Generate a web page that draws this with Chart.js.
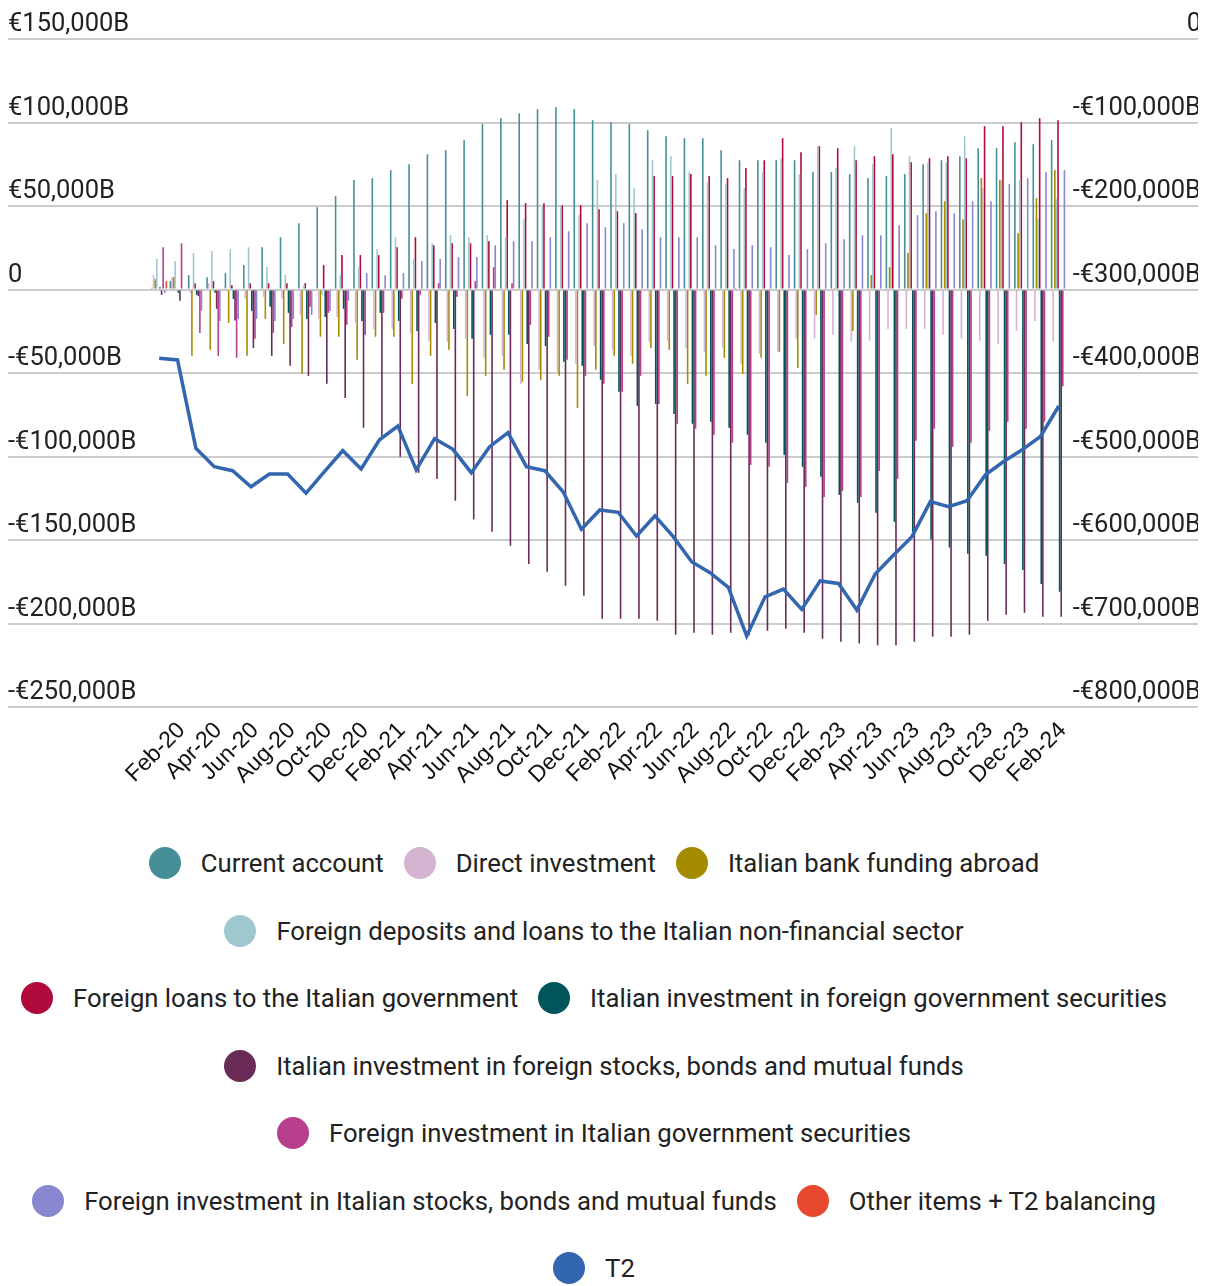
<!DOCTYPE html>
<html><head><meta charset="utf-8">
<script src="https://cdn.jsdelivr.net/npm/chart.js@4"></script>
<style>
body{margin:0;background:#fff;font-family:Roboto,sans-serif;}
#wrap{position:relative;width:1198px;height:800px;}
#legend{width:1188px;margin-top:47px;}
.row{display:flex;justify-content:center;column-gap:20px;height:32px;margin-bottom:35.5px;}
.item{display:flex;align-items:center;height:32px;font-size:25.7px;color:#222;white-space:nowrap;}
.dot{width:32px;height:32px;border-radius:50%;margin-right:20px;flex:none;}
</style></head>
<body>
<div id="wrap"><canvas id="c"></canvas></div>
<div id="legend"></div>
<script>
const months = ["Jan-20","Feb-20","Mar-20","Apr-20","May-20","Jun-20","Jul-20","Aug-20","Sep-20","Oct-20","Nov-20","Dec-20",
"Jan-21","Feb-21","Mar-21","Apr-21","May-21","Jun-21","Jul-21","Aug-21","Sep-21","Oct-21","Nov-21","Dec-21",
"Jan-22","Feb-22","Mar-22","Apr-22","May-22","Jun-22","Jul-22","Aug-22","Sep-22","Oct-22","Nov-22","Dec-22",
"Jan-23","Feb-23","Mar-23","Apr-23","May-23","Jun-23","Jul-23","Aug-23","Sep-23","Oct-23","Nov-23","Dec-23",
"Jan-24","Feb-24"];

const seriesNames = ["Current account","Direct investment","Italian bank funding abroad",
"Foreign deposits and loans to the Italian non-financial sector","Foreign loans to the Italian government",
"Italian investment in foreign government securities","Italian investment in foreign stocks, bonds and mutual funds",
"Foreign investment in Italian government securities","Foreign investment in Italian stocks, bonds and mutual funds",
"Other items + T2 balancing"];
const lineName = "T2";

const currentAccount = [1000,5000,8600,7400,9800,14600,25300,31300,39700,49300,55900,65500,66700,71500,75000,81000,83400,89400,99000,102600,105600,108000,109200,108000,101400,100200,99000,95400,91800,90600,90600,83400,77400,77400,77400,77400,70300,70300,69100,66700,67900,69100,75000,77400,79800,84600,84600,88200,87000,89400];
const directInvestment = [8600,7400,-2000,3800,-1000,-5600,-4400,-5600,-15200,-17600,-16400,-20000,-23600,-23600,-26000,-30700,-31300,-29500,-40900,-39700,-56500,-48100,-49300,-44500,-33900,-36100,-39700,-31300,-30700,-35000,-37300,-35000,-44500,-38500,-37300,-29500,-29500,-27100,-31300,-30700,-23600,-23600,-23600,-27100,-29500,-30700,-32700,-24800,-18800,-31300];
const bankFunding = [6200,7400,-39700,-36100,-20000,-39700,-17600,-32700,-50500,-28300,-28300,-42100,-28300,-28300,-56500,-39700,-36100,-63700,-51700,-48100,-55300,-54100,-51700,-70900,-48100,-39700,-44500,-35000,-36100,-56500,-51700,-40900,-50500,-40900,-37300,-47000,-15200,1000,-24800,8600,13400,21800,45700,52900,42100,66700,65500,33700,54700,71500];
const foreignDeposits = [18200,17000,21800,23000,24200,25300,13400,8600,2600,-3000,8600,13400,24200,31300,18200,27700,32500,31300,32500,31300,42100,49300,49300,44500,65500,69100,60700,77400,79800,70300,64300,63100,60700,70300,78600,69100,85800,72700,85800,75000,96600,79800,76200,76200,91800,60700,65500,65500,42100,54100];
const loansGovernment = [0,0,3800,5000,2600,3800,3800,3800,3800,14600,20600,20600,20600,25300,31300,26500,27700,27700,28900,53500,51700,51700,50500,50500,48100,46900,45700,67900,67900,69100,67900,66700,72700,77400,90600,82200,85800,84600,77400,79800,81000,76200,78600,79800,78600,97800,97800,100200,102600,101400];
const invForeignGov = [1400,-2000,-3200,-2000,-5600,-12800,-10400,-14000,-17600,-16400,-11600,-18800,-14000,-18800,-24800,-20000,-23600,-29500,-27100,-27100,-32700,-33900,-43300,-45700,-54100,-61300,-69700,-68500,-74500,-80400,-79200,-82800,-87000,-91800,-99000,-106200,-112200,-123000,-127700,-133700,-139100,-145000,-149700,-154500,-158300,-159500,-164300,-167900,-176300,-181000];
const invForeignStocks = [-3200,-6800,-4000,-11600,-18600,-35000,-39700,-45700,-51700,-56500,-64900,-82800,-88200,-100200,-109800,-113400,-126500,-137700,-145100,-153500,-164300,-169000,-177400,-183400,-197200,-197200,-197200,-198400,-206800,-205600,-206800,-205600,-207000,-204400,-203200,-205600,-209200,-211000,-212000,-213000,-213000,-211000,-208000,-208000,-206800,-198400,-194800,-193600,-196000,-196000];
const foreignInvGov = [25300,27700,-26000,-39700,-40900,-29500,-26000,-22400,-10400,-14000,-21200,-27100,-14000,-5600,-3200,3800,-4400,5000,13400,3800,-21200,-28300,-42100,-51700,-56500,-61300,-51700,-68500,-80400,-83400,-87000,-91800,-105000,-106200,-115800,-118200,-124200,-120600,-124200,-108600,-113400,-90600,-83400,-94200,-91800,-84600,-79200,-83400,-79200,-57900];
const foreignInvStocks = [-2000,0,-12800,-18800,-17600,-17600,-18800,-17600,-15200,-12800,-6800,9800,8600,9800,17000,18200,19400,19400,26500,28900,28900,31300,34900,39700,37300,39700,36100,31300,31300,31300,26500,24200,26500,25300,20600,24200,27700,30100,32500,32500,38500,44500,46900,45700,52900,52900,63100,66700,70300,71500];
const otherItems = [5000,0,0,0,0,0,0,0,0,0,0,0,0,0,0,0,0,0,0,0,0,0,0,0,0,0,0,0,0,0,0,1000,0,0,0,0,0,0,0,0,0,0,0,0,0,0,0,0,0,0];
const t2 = [-382400,-384400,-490200,-512200,-517000,-536200,-521000,-521000,-544000,-518200,-493000,-515000,
-480000,-463500,-516000,-478700,-491400,-519400,-488300,-471500,-512200,-517000,-542200,-587200,
-564000,-566800,-595200,-571200,-596000,-626000,-639200,-656600,-715000,-668000,-658700,-683000,-649000,
-652000,-683800,-640700,-618000,-596000,-554000,-560000,-553000,-522000,-506000,-492000,-476000,-439500];

const barSeries = [currentAccount,directInvestment,bankFunding,foreignDeposits,loansGovernment,invForeignGov,invForeignStocks,foreignInvGov,foreignInvStocks,otherItems];
const colors = ['#468f99','#d4b4d0','#a48b00','#9fc8ce','#b0093c','#00555a','#6a2b57','#b83e8e','#8987cf','#e6492e'];
const lineColor = '#3366b0';
const legendRows = [[0,1,2],[3],[4,5],[6],[7],[8,9],[10]];

function fmt(v){
  if (v === 0) return '0';
  return (v < 0 ? '-' : '') + '\u20AC' + Math.abs(v).toLocaleString('en-US') + 'B';
}

const datasets = [{
  type:'line', label:lineName, data:t2, yAxisID:'y2', borderColor:lineColor, borderWidth:3.5,
  pointRadius:0, tension:0, fill:false, order:-1
}];
barSeries.forEach((d,k)=>datasets.push({
  type:'bar', label:seriesNames[k], data:d, backgroundColor:colors[k], yAxisID:'y',
  categoryPercentage:0.87, barPercentage:1.0, order:1
}));

new Chart(document.getElementById('c'), {
  type:'bar',
  data:{labels:months, datasets},
  options:{
    responsive:true, maintainAspectRatio:false, animation:false, devicePixelRatio:1,
    layout:{padding:{top:39,left:8,right:-3,bottom:0}},
    plugins:{legend:{display:false}, tooltip:{enabled:false}},
    scales:{
      x:{type:'category', offset:true, grid:{display:false, drawTicks:false}, border:{display:false},
        ticks:{autoSkip:false, minRotation:45, maxRotation:45, padding:10, labelOffset:4, color:'#111',
          font:{family:'Liberation Sans', size:23},
          callback:function(v,i){ return i % 2 === 1 ? months[i] : ''; }},
        afterFit:function(s){ s.height = 93; }},
      y:{position:'left', min:-250000, max:150000,
        ticks:{stepSize:50000, crossAlign:'far', labelOffset:-14, padding:0, color:'#222',
          font:{family:'Roboto', size:25.5}, callback:fmt},
        grid:{color:'#cccccc', lineWidth:2, tickLength:142, drawTicks:true}, border:{display:false},
        afterFit:function(s){ s.width = 142; }},
      y2:{position:'right', min:-800000, max:0,
        ticks:{stepSize:100000, crossAlign:'far', labelOffset:-14, padding:0, color:'#222',
          font:{family:'Roboto', size:25.5}, callback:fmt},
        grid:{drawOnChartArea:false, color:'#cccccc', lineWidth:2, tickLength:130, drawTicks:true}, border:{display:false},
        afterFit:function(s){ s.width = 133; }}
    }
  }
});

const leg = document.getElementById('legend');
const legendItems = seriesNames.map((n,k)=>({name:n,color:colors[k]})).concat([{name:lineName,color:lineColor}]);
legendRows.forEach(r=>{
  const row = document.createElement('div'); row.className='row';
  r.forEach(idx=>{
    const it = legendItems[idx];
    const d = document.createElement('div'); d.className='item';
    const dot = document.createElement('span'); dot.className='dot'; dot.style.background=it.color;
    const t = document.createElement('span'); t.textContent = it.name;
    d.appendChild(dot); d.appendChild(t); row.appendChild(d);
  });
  leg.appendChild(row);
});
</script>
</body></html>
